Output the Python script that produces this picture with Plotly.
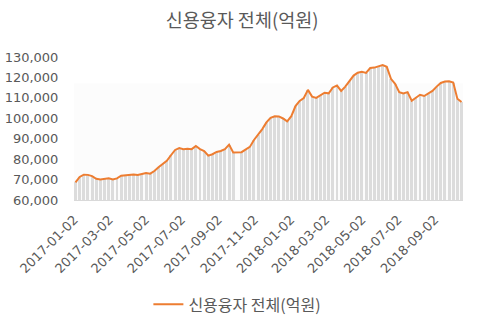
import plotly.graph_objects as go
import pandas as pd

# Weekly values (억원); week starting Mondays from 2017-01-02
week_start = "2017-01-02"
holiday_weeks = ["2017-10-02"]  # no trading (Chuseok)
values = [
    68.6, 71.3, 72.4, 72.3, 71.7, 70.4, 70.1, 70.5, 70.6, 70.0,
    70.6, 71.9, 72.1, 72.5, 72.5, 72.2, 72.6, 73.2, 72.9, 74.2,
    76.0, 77.5, 79.2, 81.9, 84.5, 85.4, 84.9, 85.1, 84.9, 86.4,
    84.9, 84.0, 81.7, 82.4, 83.5, 84.0, 84.9, 87.1, 83.3,
    83.4, 84.7, 86.0, 89.4, 92.0, 94.7, 98.0, 100.2, 101.0, 100.9,
    99.9, 98.5, 101.0, 106.0, 108.5, 109.9, 113.9, 110.6, 110.0, 111.4,
    112.5, 112.2, 115.1, 116.0, 113.4, 115.5, 118.1, 120.9, 122.3, 122.8,
    122.2, 124.6, 124.8, 125.6, 126.1, 125.2, 119.3, 116.9, 112.8, 112.2,
    112.8, 108.6, 110.1, 111.5, 110.9, 112.1, 113.4, 115.5, 117.3, 118.0,
    118.1, 117.5, 109.6, 108.0,
]
values = [v * 1000 for v in values]

tick_dates = ["2017-01-02", "2017-03-02", "2017-05-02", "2017-07-02", "2017-09-02",
              "2017-11-02", "2018-01-02", "2018-03-02", "2018-05-02", "2018-07-02",
              "2018-09-02"]
y_ticks = [60000, 70000, 80000, 90000, 100000, 110000, 120000, 130000]

mondays = pd.date_range(week_start, periods=len(values) + len(holiday_weeks), freq="7D")
mondays = [d for d in mondays if d.strftime("%Y-%m-%d") not in holiday_weeks]
centers = [d + pd.Timedelta(days=2) for d in mondays]  # Wednesday = middle of Mon-Fri

title_txt = "신용융자 전체(억원)"
grey = "#595959"
tick_font = "DejaVu Sans, sans-serif"

fig = go.Figure()
fig.add_trace(go.Bar(
    x=centers, y=values, base=0,
    width=5 * 24 * 3600 * 1000,
    marker=dict(color="#DCDCDC", line=dict(width=0)),
    showlegend=False, hoverinfo="skip",
))
fig.add_trace(go.Scatter(
    x=centers, y=values, mode="lines",
    line=dict(color="#ED7D31", width=2),
    name=title_txt,
))

fig.update_layout(
    width=489, height=318,
    margin=dict(l=74, r=26, t=57, b=118, autoexpand=False),
    paper_bgcolor="white", plot_bgcolor="white",
    font=dict(family=tick_font, color=grey, size=13),
    title=dict(text=title_txt, x=0.495, xanchor="center", y=0.935, yanchor="middle",
               font=dict(family="Noto Sans CJK KR", size=18.5, color=grey)),
    bargap=0,
    showlegend=True,
    legend=dict(orientation="h", x=0.42, xanchor="center", y=-0.73, yanchor="middle",
                font=dict(family="Noto Sans CJK KR", size=16, color=grey),
                itemwidth=30),
    shapes=[dict(type="rect", xref="paper", yref="y", x0=0, x1=1, y0=60000, y1=117000,
                 fillcolor="#FCFCFC", line=dict(width=0), layer="below")],
)
fig.update_xaxes(
    type="date", automargin=False,
    range=[pd.Timestamp("2017-01-01 12:00"), pd.Timestamp("2018-10-19 12:00")],
    tickvals=tick_dates, ticktext=tick_dates, tickangle=-45,
    showgrid=False, showline=True, linecolor="#D9D9D9", linewidth=1,
    ticks="outside", ticklen=6, tickcolor="rgba(0,0,0,0)",
    tickfont=dict(family=tick_font, size=13, color=grey),
)
fig.update_yaxes(
    automargin=False,
    range=[60000, 130000], tickvals=y_ticks, tickformat=",",
    showgrid=False, zeroline=False, showline=False,
    ticks="outside", ticklen=12, tickcolor="rgba(0,0,0,0)",
    tickfont=dict(family=tick_font, size=13, color=grey),
)

fig.write_html("out.html")
